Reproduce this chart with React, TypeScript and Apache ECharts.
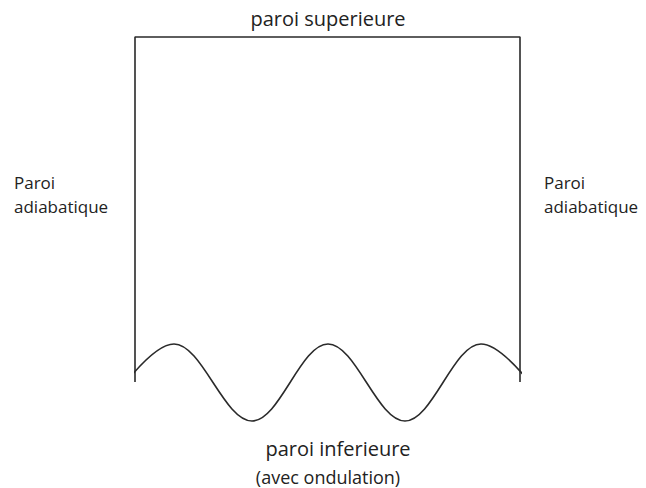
import React, { useEffect, useRef } from "react";
import * as echarts from "echarts";

// Diagram outline (pixel-like data units, y downward)
const wallX = [135, 135, 520, 520];
const wallY = [382, 37, 37, 382];

// Lower wavy wall: crests and troughs (outer ones are clipped by the walls)
const waveX = [98, 174, 252, 328, 405, 481, 558];
const waveY = [421, 344, 421, 344, 421, 344, 421];

const labels = [
  { text: "paroi superieure", x: 328, y: 18, size: 20, align: "center" },
  { text: "Paroi\nadiabatique", x: 14, y: 194, size: 17, align: "left" },
  { text: "Paroi\nadiabatique", x: 544, y: 194, size: 17, align: "left" },
  { text: "paroi inferieure", x: 338, y: 448, size: 20, align: "center" },
  { text: "(avec ondulation)", x: 328, y: 477, size: 18, align: "center" },
];

export default function App() {
  const ref = useRef<HTMLDivElement>(null);
  useEffect(() => {
    if (!ref.current) return;
    const chart = echarts.init(ref.current, undefined, { renderer: "svg" });
    const lineStyle = { color: "#2a2a2a", width: 1.6 };
    chart.setOption({
      animation: false,
      backgroundColor: "#ffffff",
      grid: [
        { left: 0, top: 0, width: 646, height: 488 },
        { left: 135, top: 0, width: 385, height: 488 },
      ],
      xAxis: [
        { type: "value", min: 0, max: 646, show: false, gridIndex: 0 },
        { type: "value", min: 135, max: 520, show: false, gridIndex: 1 },
      ],
      yAxis: [
        { type: "value", min: 0, max: 488, inverse: true, show: false, gridIndex: 0 },
        { type: "value", min: 0, max: 488, inverse: true, show: false, gridIndex: 1 },
      ],
      series: [
        {
          type: "line",
          xAxisIndex: 0,
          yAxisIndex: 0,
          data: wallX.map((x, i) => [x, wallY[i]]),
          symbol: "none",
          lineStyle,
        },
        {
          type: "line",
          xAxisIndex: 1,
          yAxisIndex: 1,
          data: waveX.map((x, i) => [x, waveY[i]]),
          symbol: "none",
          smooth: 0.36,
          clip: true,
          lineStyle,
        },
      ],
      graphic: labels.map((l) => ({
        type: "text",
        x: l.x,
        y: l.y,
        style: {
          text: l.text,
          font: `${l.size}px "Open Sans"`,
          fill: "#222",
          textAlign: l.align,
          textVerticalAlign: "middle",
          lineHeight: 24,
        },
      })),
    });
    return () => chart.dispose();
  }, []);
  return (
    <div
      ref={ref}
      style={{ position: "absolute", left: 0, top: 0, width: 646, height: 488 }}
    />
  );
}
